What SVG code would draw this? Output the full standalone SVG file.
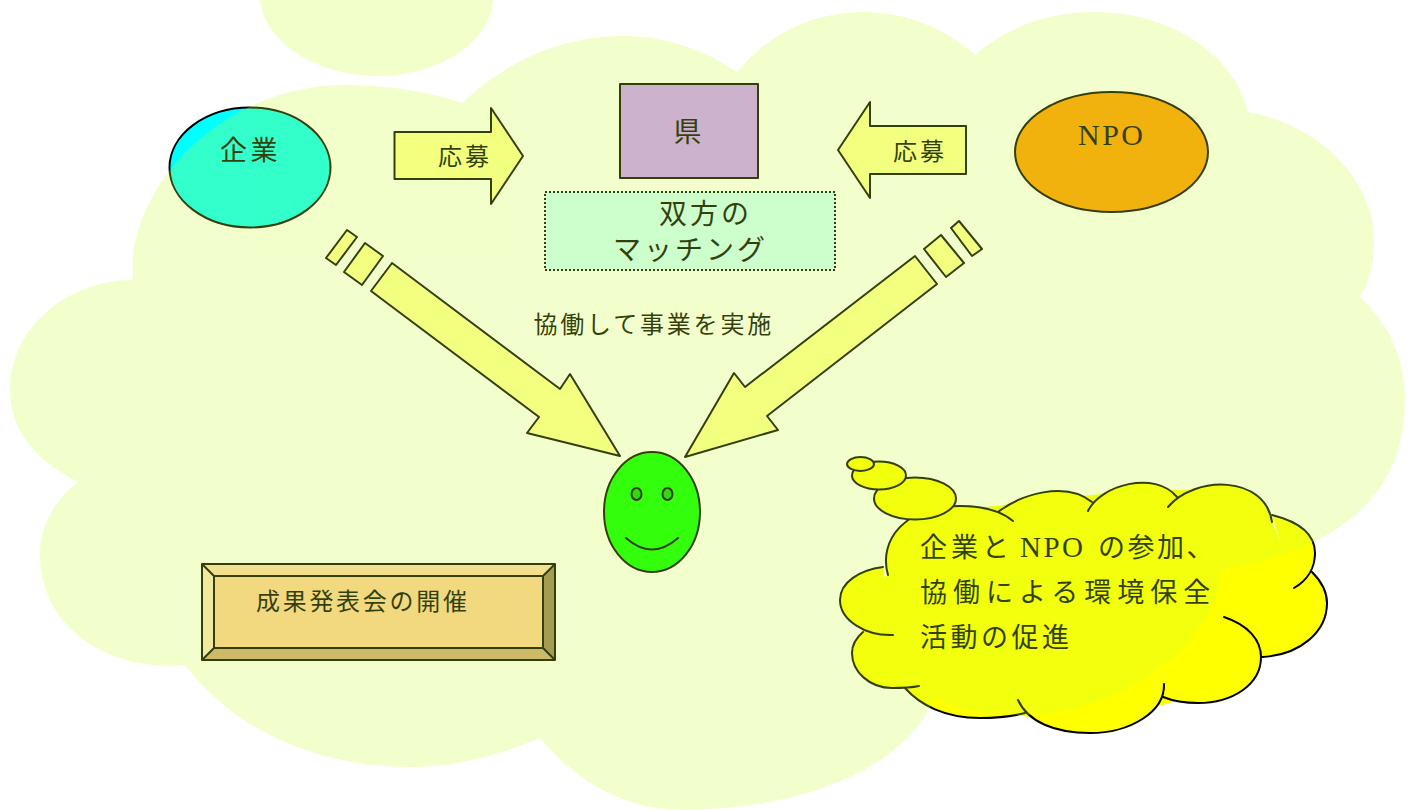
<svg xmlns="http://www.w3.org/2000/svg" width="1414" height="810" viewBox="0 0 1414 810">
<style>
.s{stroke:#000;stroke-width:2;stroke-linejoin:round}
.a{fill:#ffff99}
.t{font-family:"Liberation Serif","Noto Sans CJK JP",sans-serif;fill:#000}
.y{fill:#ffff00}
.k{fill:none;stroke:#000;stroke-width:2;stroke-linecap:round}
</style>
<rect width="1414" height="810" fill="#fff"/>
<g id="node-kigyo"><ellipse class="s" cx="250" cy="167.500" rx="80.500" ry="60" fill="#00ffff"/><text class="t" x="220" y="160" font-size="27" letter-spacing="3.500">企業</text></g>
<g id="node-ken"><rect class="s" x="620" y="84" width="138" height="94" fill="#cc99ff"/><text class="t" x="673.500" y="142" font-size="28">県</text></g>
<g id="node-npo"><ellipse class="s" cx="1111.500" cy="152" rx="96.500" ry="60" fill="#ff9900"/><text class="t" x="1078" y="145" font-size="30" letter-spacing="2.500">NPO</text></g>
<g id="connectors">
<path class="s a" d="M394.500,132H491V108L523,156L491,204V179H394.500Z"/>
<text class="t" x="438" y="165" font-size="24" letter-spacing="3">応募</text>
<path class="s a" d="M966,126H870V102L838,150L870,198V174H966Z"/>
<text class="t" x="893" y="160" font-size="24" letter-spacing="3">応募</text>
<path class="s a" d="M347,230L357,237L336,265L326,258Z"/>
<path class="s a" d="M365,243L383,256L362,285L344,272Z"/>
<path class="s a" d="M392,263L560,389L570,374L620,456L527,433L539,417L371,291Z"/>
<path class="s a" d="M959,221L982,249L972,256L951,228Z"/>
<path class="s a" d="M941,235L964,263L946,277L924,249Z"/>
<path class="s a" d="M915,256L937,284L767,416L778,430L685,457L734,373L745,387Z"/>
</g>
<g id="node-matching"><rect x="545" y="192" width="290" height="78" fill="#ccffff" stroke="#000" stroke-width="2" stroke-dasharray="2 2"/><text class="t" x="659" y="224" font-size="28" letter-spacing="3">双方の</text><text class="t" x="613" y="260" font-size="28" letter-spacing="3">マッチング</text></g>
<text id="label-kyodo" class="t" x="533.500" y="332.500" font-size="24" letter-spacing="2.800">協働して事業を実施</text>
<g id="node-face"><ellipse class="s" cx="652" cy="512" rx="48" ry="60" fill="#00ff00"/><ellipse class="s" cx="636.500" cy="494" rx="5" ry="6" fill="#00cc00"/><ellipse class="s" cx="667.500" cy="494" rx="5" ry="6" fill="#00cc00"/><path class="k" d="M626,538Q652,561 678,538"/></g>
<g id="node-result">
<rect x="202" y="564" width="353" height="96" fill="#ffcc99"/>
<path d="M202,564H555L543,576H214Z" fill="#ffd6ad"/>
<path d="M202,564L214,576V648L202,660Z" fill="#ffe0c2"/>
<path d="M555,564L543,576V648L555,660Z" fill="#997a5c"/>
<path d="M202,660L214,648H543L555,660Z" fill="#cca37a"/>
<path class="s" fill="none" d="M202,564H555V660H202ZM214,576H543V648H214ZM202,564L214,576M555,564L543,576M202,660L214,648M555,660L543,648"/>
<text class="t" x="256" y="610" font-size="24" letter-spacing="2.700">成果発表会の開催</text>
</g>
<g id="node-callout">
<g class="y">
<path d="M888,575L960,510L1047,500L1137,490L1217,490L1272,522L1300,590L1262,657L1198,695L1090,725L980,710L905,688L863,632L850,600Z"/>
<path d="M888,575C878,540 905,506 960,506C980,506 1000,510 1013,521"/>
<path d="M998,512C1020,495 1065,480 1092,502"/>
<path d="M1088,511C1100,485 1155,470 1177,497"/>
<path d="M1168,507C1195,475 1265,475 1272,522"/>
<path d="M1272,515C1300,522 1315,535 1315,553C1315,567 1308,580 1294,588"/>
<path d="M1312,572C1322,582 1327,592 1327,603C1327,632 1300,655 1262,657L1290,590Z"/>
<path d="M1224,617C1248,625 1261,640 1261,657C1261,685 1232,703 1198,703C1186,703 1173,701 1163,697"/>
<path d="M1164,684C1165,712 1130,733 1090,733C1055,733 1028,722 1018,700"/>
<path d="M1025,713C1010,717 995,718 980,718C945,718 920,705 905,688"/>
<path d="M919,686C910,688 900,688 892,688C870,688 852,672 852,653C852,645 856,638 863,632"/>
<path d="M893,635C865,636 840,620 840,600C840,582 860,570 883,567"/>
</g>
<path class="k" d="M888,575C878,540 905,506 960,506C980,506 1000,510 1013,521"/>
<path class="k" d="M998,512C1020,495 1065,480 1092,502"/>
<path class="k" d="M1088,511C1100,485 1155,470 1177,497"/>
<path class="k" d="M1168,507C1195,475 1265,475 1272,522"/>
<path class="k" d="M1272,515C1300,522 1315,535 1315,553C1315,567 1308,580 1294,588"/>
<path class="k" d="M1312,572C1322,582 1327,592 1327,603C1327,632 1300,655 1262,657"/>
<path class="k" d="M1224,617C1248,625 1261,640 1261,657C1261,685 1232,703 1198,703C1186,703 1173,701 1163,697"/>
<path class="k" d="M1164,684C1165,712 1130,733 1090,733C1055,733 1028,722 1018,700"/>
<path class="k" d="M1025,713C1010,717 995,718 980,718C945,718 920,705 905,688"/>
<path class="k" d="M919,686C910,688 900,688 892,688C870,688 852,672 852,653C852,645 856,638 863,632"/>
<path class="k" d="M893,635C865,636 840,620 840,600C840,582 860,570 883,567"/>
<ellipse class="s y" cx="915" cy="498.500" rx="41" ry="21"/>
<ellipse class="s y" cx="879" cy="475.500" rx="27" ry="14"/>
<ellipse class="s y" cx="860.500" cy="464" rx="13.500" ry="7"/>
<text class="t" y="557" font-size="27"><tspan x="920" letter-spacing="4">企業と</tspan><tspan x="1020" font-size="29" letter-spacing="2.500">NPO</tspan><tspan x="1098" letter-spacing="2.500">の参加、</tspan></text>
<text class="t" x="920" y="602" font-size="27" letter-spacing="6">協働による環境保全</text>
<text class="t" x="920" y="647" font-size="27" letter-spacing="3.500">活動の促進</text>
</g>
<g id="overlay-cloud" fill="#ccff33" opacity="0.25">
<path d="M260,0C265,45 320,76 378,76C435,76 490,45 493,0Z"/>
<path d="M133,280C125,190 220,85 345,85C390,85 430,92 462,103C510,58 565,36 625,36C665,36 705,50 737,72C770,32 815,12 865,12C905,12 945,28 975,55C1010,25 1050,12 1095,12C1170,12 1235,55 1248,112C1320,125 1374,180 1374,240C1374,262 1370,280 1360,297C1390,325 1405,360 1405,400C1405,470 1370,545 1220,570C1220,640 1120,715 1020,715C985,715 955,708 935,697C905,770 800,810 680,810C625,810 575,780 540,738C500,755 455,767 410,767C310,767 230,725 185,665C105,672 40,625 40,555C40,525 55,500 78,482C35,460 10,430 10,390C10,330 65,280 133,280Z"/>
</g>
</svg>
